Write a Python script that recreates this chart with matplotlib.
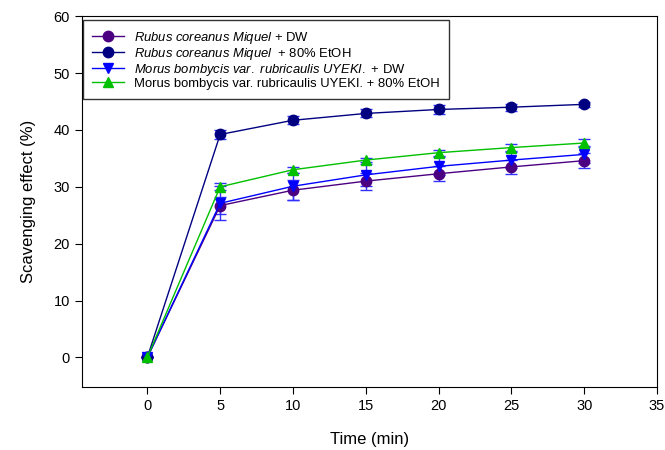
import matplotlib.pyplot as plt
import numpy as np

plt.rcParams["font.family"] = ["Liberation Sans", "DejaVu Sans"]
plt.rcParams["mathtext.fontset"] = "custom"
plt.rcParams["mathtext.rm"] = "Liberation Sans"
plt.rcParams["mathtext.it"] = "Liberation Sans:italic"

# Data
times = [0, 5, 10, 15, 20, 25, 30]  # [min]

rubus_dw = [0.0, 26.7, 29.4, 31.0, 32.3, 33.5, 34.6]
rubus_dw_err = [0.0, 1.5, 1.8, 1.5, 1.3, 1.3, 1.3]

rubus_etoh = [0.0, 39.2, 41.7, 42.9, 43.6, 44.0, 44.5]
rubus_etoh_err = [0.0, 0.8, 0.7, 0.7, 0.8, 0.6, 0.5]

morus_dw = [0.0, 27.1, 30.1, 32.1, 33.6, 34.7, 35.7]
morus_dw_err = [0.0, 3.0, 2.4, 1.9, 1.6, 1.4, 1.5]

morus_etoh = [0.0, 30.0, 33.0, 34.7, 36.0, 36.9, 37.7]
morus_etoh_err = [0.0, 0.6, 0.5, 0.4, 0.5, 0.6, 0.7]

labels = [
    r"$\it{Rubus\ coreanus\ Miquel}$ + DW",
    r"$\it{Rubus\ coreanus\ Miquel}$  + 80% EtOH",
    r"$\it{Morus\ bombycis\ var.\ rubricaulis\ UYEKI.}$ + DW",
    "Morus bombycis var. rubricaulis UYEKI. + 80% EtOH",
]

fig = plt.figure(figsize=(6.65, 4.5), dpi=100)
ax = fig.add_axes([0.123, 0.14, 0.865, 0.824])

series = [
    (rubus_dw, rubus_dw_err, "#4B0082", "o"),
    (rubus_etoh, rubus_etoh_err, "#000080", "o"),
    (morus_dw, morus_dw_err, "#0000FF", "v"),
    (morus_etoh, morus_etoh_err, "#00C000", "^"),
]

for (vals, errs, col, mk), lab in zip(series, labels):
    ax.errorbar(
        times, vals, yerr=errs,
        color=col, marker=mk, markersize=7.5, linewidth=1.0,
        ecolor="#3030FF", elinewidth=1.0, capsize=4, capthick=1.0,
        label=lab,
    )

ax.set_xlim(-4.5, 35)
ax.set_ylim(-5.2, 60)
ax.set_xticks([0, 5, 10, 15, 20, 25, 30, 35])
ax.set_yticks([0, 10, 20, 30, 40, 50, 60])
ax.tick_params(direction="out", length=5, labelsize=10.5, top=False, right=False)
ax.set_xlabel("Time (min)", fontsize=12, labelpad=14)
ax.set_ylabel("Scavenging effect (%)", fontsize=12, labelpad=13)

handles, labs = ax.get_legend_handles_labels()
handles = [h[0] for h in handles]
leg = ax.legend(
    handles, labs, loc="upper left", bbox_to_anchor=(0.0, 0.992),
    fontsize=9.4, frameon=True, fancybox=False, edgecolor="black",
    borderpad=0.7, labelspacing=0.0, handlelength=2.4, borderaxespad=0.1,
)
leg.get_frame().set_linewidth(1.0)

fig.savefig("out.png", dpi=100)
